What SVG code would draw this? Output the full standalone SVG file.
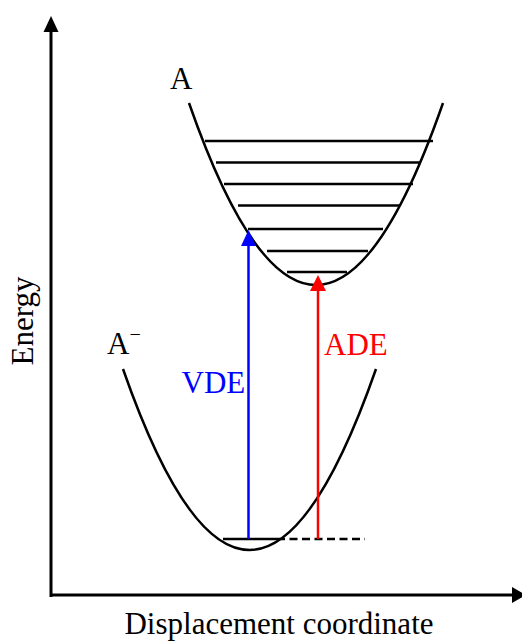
<svg xmlns="http://www.w3.org/2000/svg" width="522" height="642" viewBox="0 0 522 642">
<style>
  .curve { fill: none; stroke: #000; stroke-width: 2.5; }
  .level { stroke: #000; stroke-width: 2.5; }
  .axis { stroke: #000; stroke-width: 3; }
  .lbl { font-family: "Liberation Serif", "Times New Roman", serif; font-size: 31px; }
</style>
<rect width="522" height="642" fill="#fff"/>
<g id="axes">
  <line class="axis" x1="51" y1="597" x2="51" y2="31"/>
  <polygon points="51,16 43.5,32 58.5,32" fill="#000"/>
  <line class="axis" x1="51" y1="595" x2="513" y2="595"/>
  <polygon points="526,595 512,587 512,603" fill="#000"/>
  <text class="lbl" x="279" y="634" font-size="31.5" text-anchor="middle">Displacement coordinate</text>
  <text class="lbl" font-size="33" text-anchor="middle" transform="translate(33,321) rotate(-90)">Energy</text>
</g>
<g id="neutral-A">
  <path class="curve" d="M189,103 Q316,467 443,103"/>
  <line class="level" x1="205" y1="141" x2="433" y2="141"/>
  <line class="level" x1="216" y1="162.5" x2="420" y2="162.5"/>
  <line class="level" x1="224" y1="184" x2="413" y2="184"/>
  <line class="level" x1="238" y1="205.5" x2="400" y2="205.5"/>
  <line class="level" x1="248" y1="229" x2="383" y2="229"/>
  <line class="level" x1="267" y1="251" x2="368" y2="251"/>
  <line class="level" x1="287" y1="272" x2="347" y2="272"/>
  <text class="lbl" x="170" y="89">A</text>
</g>
<g id="anion-A">
  <path class="curve" d="M123,369 Q249.5,731 376,369"/>
  <line class="level" x1="223" y1="539" x2="277" y2="539"/>
  <line class="level" x1="277" y1="539" x2="365" y2="539" stroke-dasharray="8,4.5"/>
  <text class="lbl" x="107" y="354">A<tspan font-size="20" dy="-13">−</tspan></text>
</g>
<g id="connectors">
  <g id="VDE">
    <line x1="248.5" y1="539" x2="248.5" y2="244" stroke="#0000FF" stroke-width="2.5"/>
    <polygon points="248.5,230 241,246 256,246" fill="#0000FF"/>
    <text class="lbl" x="181.5" y="393" fill="#0000FF">VDE</text>
  </g>
  <g id="ADE">
    <line x1="318" y1="539" x2="318" y2="289" stroke="#FF0000" stroke-width="2.5"/>
    <polygon points="318,275 310,291 326,291" fill="#FF0000"/>
    <text class="lbl" x="324" y="355" fill="#FF0000">ADE</text>
  </g>
</g>
</svg>
